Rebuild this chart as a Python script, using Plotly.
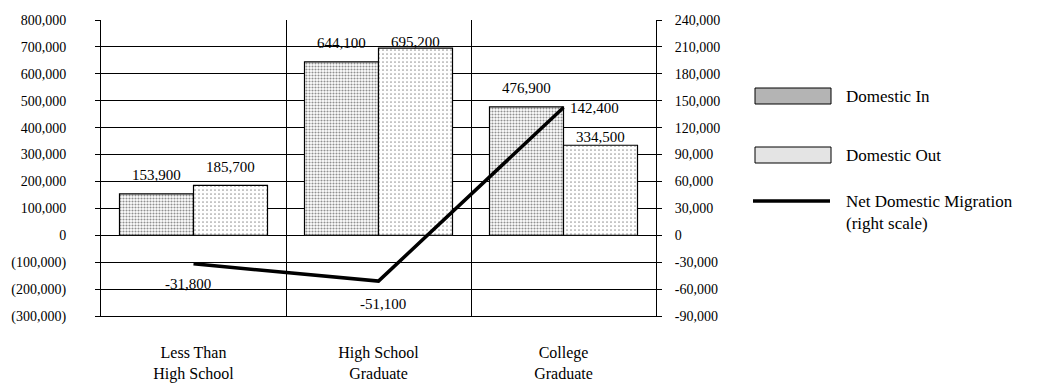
import plotly.graph_objects as go

# Domestic migration by educational attainment
categories = ["Less Than<br>High School", "High School<br>Graduate", "College<br>Graduate"]
domestic_in = [153900, 644100, 476900]
domestic_out = [185700, 695200, 334500]
net_migration = [-31800, -51100, 142400]

left_ticks = [800000, 700000, 600000, 500000, 400000, 300000, 200000, 100000, 0,
              -100000, -200000, -300000]
right_ticks = [240000, 210000, 180000, 150000, 120000, 90000, 60000, 30000, 0,
               -30000, -60000, -90000]

FONT = "'Liberation Serif', 'Times New Roman', Times, serif"
W, H = 1043, 389
M_L, M_R, M_T, M_B = 101, 387, 20, 73


def paren_fmt(v):
    return f"({abs(v):,})" if v < 0 else f"{v:,}"


def dash_fmt(v):
    return f"-{abs(v):,}" if v < 0 else f"{v:,}"


def px_x(px):
    return (px - M_L) / (W - M_L - M_R)


def px_y(py):
    return 1 - (py - M_T) / (H - M_T - M_B)


in_pattern = dict(shape=".", fgcolor="#222222", bgcolor="#ffffff", size=3, solidity=0.4)
out_pattern = dict(shape=".", fgcolor="#333333", bgcolor="#ffffff", size=4, solidity=0.15)

fig = go.Figure()
fig.add_trace(go.Bar(
    x=categories, y=domestic_in, name="Domestic In",
    marker=dict(color="#ffffff", pattern=in_pattern, line=dict(color="#000000", width=1.2)),
    showlegend=False,
))
fig.add_trace(go.Bar(
    x=categories, y=domestic_out, name="Domestic Out",
    marker=dict(color="#ffffff", pattern=out_pattern, line=dict(color="#000000", width=1.2)),
    showlegend=False,
))
fig.add_trace(go.Scatter(
    x=categories, y=net_migration, name="Net Domestic Migration", yaxis="y2",
    mode="lines", line=dict(color="#000000", width=3.5), showlegend=False,
))

# value labels
label_font = dict(family=FONT, size=15, color="#000000")
in_shift = [19, 19, 19]
out_shift = [18, 6, 8]
for i, (vi, vo) in enumerate(zip(domestic_in, domestic_out)):
    fig.add_annotation(x=i - 0.2, y=vi, xref="x", yref="y", text=f"{vi:,}",
                       showarrow=False, yanchor="middle", yshift=in_shift[i], font=label_font)
    fig.add_annotation(x=i + 0.2, y=vo, xref="x", yref="y", text=f"{vo:,}",
                       showarrow=False, yanchor="middle", yshift=out_shift[i], font=label_font)

net_style = [dict(xanchor="center", xshift=-6, yshift=-20),
             dict(xanchor="center", xshift=4, yshift=-23),
             dict(xanchor="left", xshift=4, yshift=0)]
for i, v in enumerate(net_migration):
    fig.add_annotation(x=i, y=v, xref="x", yref="y2", text=dash_fmt(v), showarrow=False,
                       yanchor="middle", font=label_font, **net_style[i])

# legend drawn beside the plot
legend_font = dict(family=FONT, size=17, color="#000000")
fig.add_shape(type="rect", xref="paper", yref="paper",
              x0=px_x(755), x1=px_x(831), y0=px_y(104), y1=px_y(88),
              fillcolor="#b4b4b4", line=dict(color="#000000", width=1))
fig.add_shape(type="rect", xref="paper", yref="paper",
              x0=px_x(755), x1=px_x(831), y0=px_y(163), y1=px_y(147),
              fillcolor="#e4e4e4", line=dict(color="#000000", width=1))
fig.add_shape(type="line", xref="paper", yref="paper",
              x0=px_x(753), x1=px_x(830), y0=px_y(201), y1=px_y(201),
              line=dict(color="#000000", width=3.5))
for text, py in [("Domestic In", 96), ("Domestic Out", 155),
                 ("Net Domestic Migration", 201), ("(right scale)", 223)]:
    fig.add_annotation(x=px_x(844), y=px_y(py), xref="paper", yref="paper", text=text,
                       showarrow=False, xanchor="left", yanchor="middle", font=legend_font)

fig.update_layout(
    width=W, height=H,
    margin=dict(l=M_L, r=M_R, t=M_T, b=M_B),
    paper_bgcolor="#ffffff", plot_bgcolor="#ffffff",
    barmode="group", bargap=0.2, bargroupgap=0,
    font=dict(family=FONT, size=15, color="#000000"),
    xaxis=dict(
        type="category", tickson="boundaries", showgrid=True, gridcolor="#000000",
        gridwidth=1, showline=True, linecolor="#000000", linewidth=1, ticks="",
        tickfont=dict(family=FONT, size=16), ticklabelstandoff=22, automargin=False,
    ),
    yaxis=dict(
        range=[-300000, 800000], tickvals=left_ticks,
        ticktext=[paren_fmt(v) for v in left_ticks],
        showgrid=True, gridcolor="#000000", gridwidth=1,
        zeroline=True, zerolinecolor="#000000", zerolinewidth=1,
        showline=True, linecolor="#000000", linewidth=1,
        ticks="outside", ticklen=5, tickcolor="#000000",
        tickfont=dict(family=FONT, size=14), ticklabelstandoff=26, automargin=False,
    ),
    yaxis2=dict(
        range=[-90000, 240000], tickvals=right_ticks,
        ticktext=[dash_fmt(v) for v in right_ticks],
        overlaying="y", side="right", showgrid=False, zeroline=False,
        showline=True, linecolor="#000000", linewidth=1,
        ticks="outside", ticklen=5, tickcolor="#000000",
        tickfont=dict(family=FONT, size=14), ticklabelstandoff=10, automargin=False,
    ),
)

fig.write_html("out.html")
